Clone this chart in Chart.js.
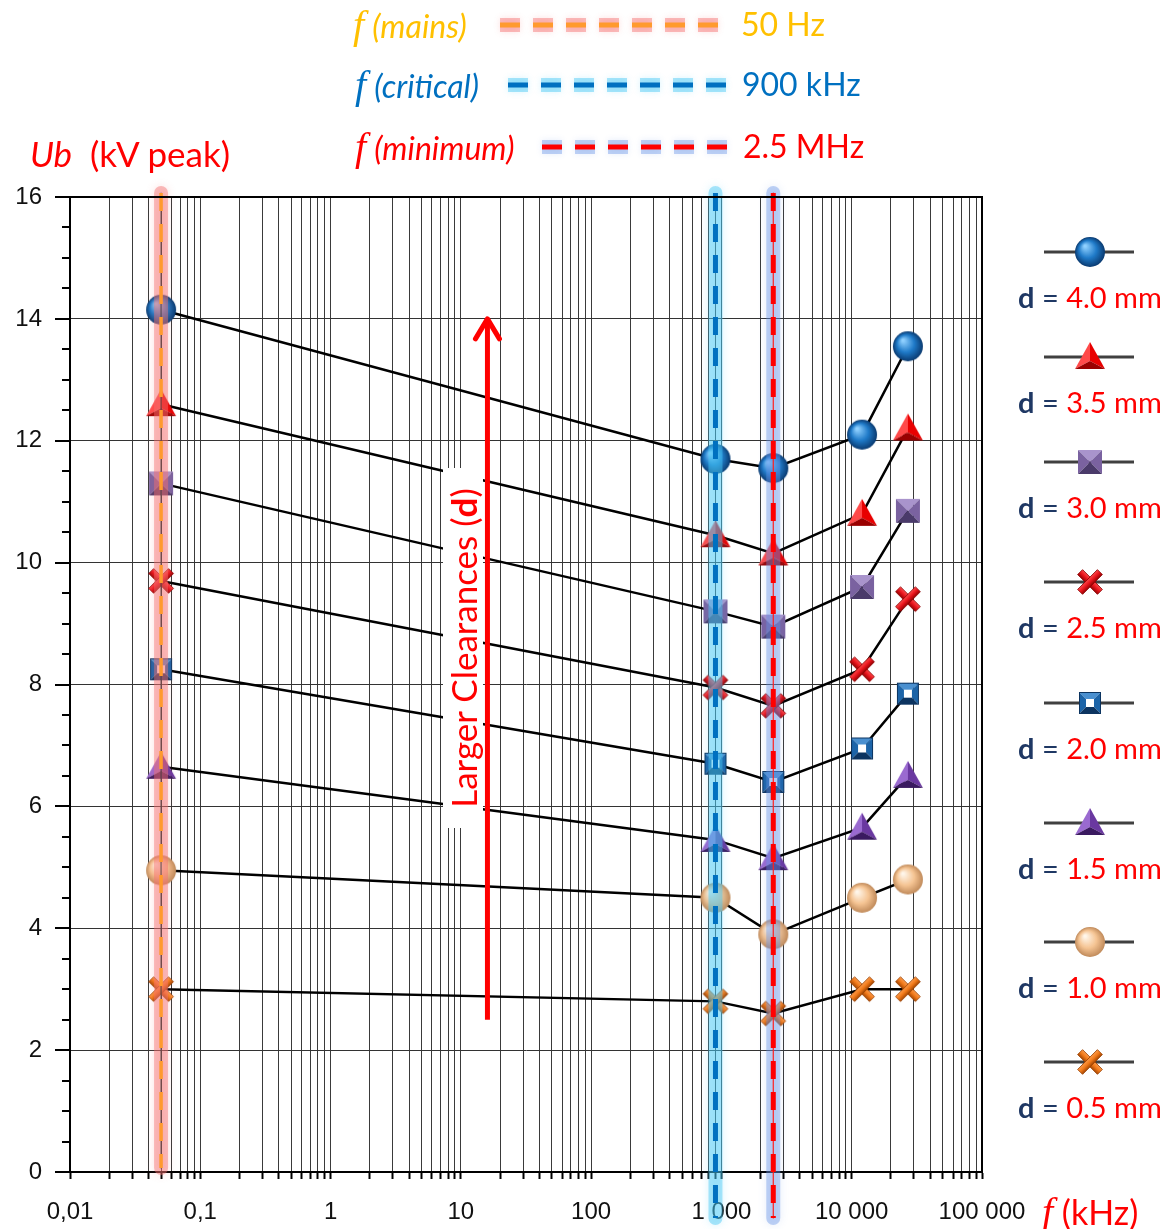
<!DOCTYPE html>
<html>
<head>
<meta charset="utf-8">
<title>Breakdown voltage vs frequency</title>
<script src="https://cdn.jsdelivr.net/npm/chart.js@4/dist/chart.umd.min.js"></script>
<style>
    body { margin: 0; background: #fff; }
    #wrap { position: relative; width: 1175px; height: 1229px; }
    .lbl { position: absolute; white-space: nowrap; line-height: 1; font-family: Lato, 'Open Sans', sans-serif; }
    .ff { font-family: 'Liberation Serif', serif; font-style: italic; font-size: 40px; }
    .it { font-style: italic; }
    .dl b { color: #1f3864; }
    .dl .eq { color: #1f3864; }
    .dl .v { color: #ff0000; }
    #clear { position: absolute; left: 283px; top: 628px; width: 360px; height: 40px; line-height: 40px;
             background: #fff; color: #ff0000; font-family: Lato, sans-serif; font-size: 35px;
             text-align: center; transform: rotate(-90deg); }
</style>
</head>
<body>
<div id="wrap">
    <canvas id="chart" width="1175" height="1229"></canvas>

    <!-- leyenda de frecuencias -->
    <div class="lbl" style="left:353px;top:5px;color:#ffc000;font-size:32px"><span class="ff">f</span> <span class="it">(mains)</span></div>
    <div class="lbl" style="left:355px;top:65px;color:#0070c0;font-size:32px"><span class="ff">f</span> <span class="it">(critical)</span></div>
    <div class="lbl" style="left:355px;top:127px;color:#ff0000;font-size:32px"><span class="ff">f</span> <span class="it">(minimum)</span></div>
    <div class="lbl" id="ref0" style="left:741px;top:8px;color:#ffc000;font-size:32px"></div>
    <div class="lbl" id="ref1" style="left:742px;top:68px;color:#0070c0;font-size:32px"></div>
    <div class="lbl" id="ref2" style="left:743px;top:130px;color:#ff0000;font-size:32px"></div>

    <!-- títulos de ejes -->
    <div class="lbl" style="left:30px;top:136px;color:#ff0000;font-size:35px"><span class="it">Ub</span>&nbsp; (kV peak)</div>
    <div class="lbl" style="left:1042px;top:1192px;color:#ff0000;font-size:34px"><span class="ff">f</span>&nbsp;(kHz)</div>

    <div id="clear">Larger Clearances (<b>d</b>)</div>

    <div id="legend"></div>
</div>

<script>
// Datos
const freqKHz = [0.05, 900, 2500, 12000, 27000];
const d40 = [14.15, 11.7, 11.55, 12.1, 13.55];
const d35 = [12.6, 10.45, 10.15, 10.8, 12.2];
const d30 = [11.3, 9.2, 8.95, 9.6, 10.85];
const d25 = [9.7, 7.95, 7.65, 8.25, 9.4];
const d20 = [8.25, 6.7, 6.4, 6.95, 7.85];
const d15 = [6.65, 5.45, 5.15, 5.65, 6.5];
const d10 = [4.95, 4.5, 3.9, 4.5, 4.8];
const d05 = [3.0, 2.8, 2.6, 3.0, 3.0];
const clearances = ['4.0', '3.5', '3.0', '2.5', '2.0', '1.5', '1.0', '0.5'];

const refFreqs = [0.05, 900, 2500];
const refLabels = ['50 Hz', '900 kHz', '2.5 MHz'];

const xMajorTicks = [0.01, 0.1, 1, 10, 100, 1000, 10000, 100000];
const xTickLabels = ['0,01', '0,1', '1', '10', '100', '1 000', '10 000', '100 000'];
const yMin = 0, yMax = 16, yMajorStep = 2, yMinorStep = 0.5;

// flecha "Larger Clearances"
const arrowFreq = 16;
const arrowFrom = 2.5;
const arrowTo = 14.0;

const seriesValues = [d40, d35, d30, d25, d20, d15, d10, d05];

// Estilos de marcadores
const markerStyles = [
    { kind: 'sphere',   light: '#8fd0ff', base: '#1f7ac8', dark: '#0a3a70' },
    { kind: 'triangle', light: '#ff4a4a', base: '#e80000', dark: '#9a0000' },
    { kind: 'pyramid',  light: '#a994cc', base: '#7a62a0', dark: '#4a3a6a' },
    { kind: 'cross',    light: '#ff5050', base: '#e8141c', dark: '#8a0000' },
    { kind: 'hollow',   light: '#4a90d0', base: '#1c64a8', dark: '#0c3460' },
    { kind: 'triangle', light: '#9a6ad0', base: '#6a38a0', dark: '#3a1a60' },
    { kind: 'sphere',   light: '#fff6ea', base: '#f5c493', dark: '#c08a5a' },
    { kind: 'cross',    light: '#ffa050', base: '#f07818', dark: '#9a4000' }
];

const refStyles = [
    { glow: 'rgba(245, 110, 110, 0.45)', dash: '#ff9a2e', thin: 'rgba(60,60,60,0.7)', below: -4, width: 3.5 },
    { glow: 'rgba(70, 200, 245, 0.45)', dash: '#0070c0', thin: null, below: 46, width: 5 },
    { glow: 'rgba(100, 145, 230, 0.40)', dash: '#ff0000', thin: '#ff2020', below: 46, width: 5 }
];

function facet(g, pts, color) {
    g.beginPath();
    g.moveTo(pts[0][0], pts[0][1]);
    for (let i = 1; i < pts.length; i++) g.lineTo(pts[i][0], pts[i][1]);
    g.closePath();
    g.fillStyle = color;
    g.fill();
}

function drawMarker(g, st, cx, cy) {
    if (st.kind === 'sphere') {
        const r = 15;
        const grad = g.createRadialGradient(cx - 5, cy - 6, 1, cx, cy, r);
        grad.addColorStop(0, st.light);
        grad.addColorStop(0.55, st.base);
        grad.addColorStop(1, st.dark);
        g.fillStyle = grad;
        g.beginPath();
        g.arc(cx, cy, r, 0, Math.PI * 2);
        g.fill();
    } else if (st.kind === 'triangle') {
        const top = [cx, cy - 15], bl = [cx - 15, cy + 12], br = [cx + 15, cy + 12], c = [cx, cy + 4];
        facet(g, [top, bl, c], st.light);
        facet(g, [top, br, c], st.base);
        facet(g, [bl, br, c], st.dark);
    } else if (st.kind === 'pyramid') {
        const h = 12;
        const tl = [cx - h, cy - h], tr = [cx + h, cy - h], bl = [cx - h, cy + h], br = [cx + h, cy + h], c = [cx, cy];
        facet(g, [tl, tr, c], st.light);
        facet(g, [tl, bl, c], st.base);
        facet(g, [tr, br, c], st.base);
        facet(g, [bl, br, c], st.dark);
    } else if (st.kind === 'hollow') {
        const h = 11, k = 4;
        const o = [[cx - h, cy - h], [cx + h, cy - h], [cx + h, cy + h], [cx - h, cy + h]];
        const n = [[cx - k, cy - k], [cx + k, cy - k], [cx + k, cy + k], [cx - k, cy + k]];
        facet(g, [o[0], o[1], n[1], n[0]], st.light);
        facet(g, [o[0], o[3], n[3], n[0]], st.base);
        facet(g, [o[1], o[2], n[2], n[1]], st.base);
        facet(g, [o[3], o[2], n[2], n[3]], st.dark);
        g.strokeStyle = st.dark;
        g.lineWidth = 1;
        g.strokeRect(cx - h + 0.5, cy - h + 0.5, 2 * h - 1, 2 * h - 1);
        g.fillStyle = '#fff';
        g.fillRect(cx - k, cy - k, 2 * k, 2 * k);
    } else if (st.kind === 'cross') {
        [Math.PI / 4, -Math.PI / 4].forEach(a => {
            g.save();
            g.translate(cx, cy);
            g.rotate(a);
            const grad = g.createLinearGradient(0, -4, 0, 4);
            grad.addColorStop(0, st.light);
            grad.addColorStop(0.5, st.base);
            grad.addColorStop(1, st.dark);
            g.fillStyle = grad;
            g.fillRect(-14, -3.5, 28, 7);
            g.strokeStyle = st.dark;
            g.lineWidth = 0.8;
            g.strokeRect(-14, -3.5, 28, 7);
            g.restore();
        });
    }
}

function markerCanvas(st) {
    const c = document.createElement('canvas');
    c.width = 34;
    c.height = 34;
    drawMarker(c.getContext('2d'), st, 17, 17);
    return c;
}

// Leyenda derecha
const legendRowY = [252, 357, 462, 582, 703, 823, 942, 1062];
const legend = document.getElementById('legend');
clearances.forEach((d, i) => {
    const c = document.createElement('canvas');
    c.width = 92;
    c.height = 36;
    c.style.position = 'absolute';
    c.style.left = '1043px';
    c.style.top = (legendRowY[i] - 18) + 'px';
    const g = c.getContext('2d');
    g.strokeStyle = '#404040';
    g.lineWidth = 3;
    g.beginPath();
    g.moveTo(1, 18);
    g.lineTo(91, 18);
    g.stroke();
    drawMarker(g, markerStyles[i], 47, 18);
    legend.appendChild(c);

    const t = document.createElement('div');
    t.className = 'lbl dl';
    t.style.left = '1018px';
    t.style.top = (legendRowY[i] + 30) + 'px';
    t.style.fontSize = '29px';
    t.innerHTML = '<b>d</b> <span class="eq">=</span> <span class="v">' + d + ' mm</span>';
    legend.appendChild(t);
});

refLabels.forEach((l, i) => {
    document.getElementById('ref' + i).textContent = l;
});

// Valores de la rejilla logarítmica
const xGridValues = [];
for (let e = -2; e <= 4; e++) {
    for (let k = 1; k <= 9; k++) {
        xGridValues.push(parseFloat((k * Math.pow(10, e)).toPrecision(6)));
    }
}
xGridValues.push(100000);

// Banda vertical continua con línea discontinua
function drawGlowLine(ctx, x1, y1, x2, y2, st) {
    ctx.save();
    ctx.lineCap = 'round';
    ctx.strokeStyle = st.glow;
    ctx.shadowColor = st.glow;
    ctx.shadowBlur = 8;
    ctx.lineWidth = 14;
    ctx.beginPath();
    ctx.moveTo(x1, y1);
    ctx.lineTo(x2, y2);
    ctx.stroke();
    ctx.shadowBlur = 0;
    if (st.thin) {
        ctx.strokeStyle = st.thin;
        ctx.lineWidth = 1.2;
        ctx.beginPath();
        ctx.moveTo(x1, y1);
        ctx.lineTo(x2, y2);
        ctx.stroke();
    }
    ctx.lineCap = 'butt';
    ctx.setLineDash([18, 13]);
    ctx.strokeStyle = st.dash;
    ctx.lineWidth = st.width;
    ctx.beginPath();
    ctx.moveTo(x1, y1);
    ctx.lineTo(x2, y2);
    ctx.stroke();
    ctx.restore();
}

// Muestra de leyenda: cada trazo con su propio halo
function drawGlowDashes(ctx, x1, x2, y, st) {
    ctx.save();
    ctx.setLineDash([20, 13]);
    ctx.lineCap = 'butt';
    ctx.strokeStyle = st.glow;
    ctx.shadowColor = st.glow;
    ctx.shadowBlur = 6;
    ctx.lineWidth = 14;
    ctx.beginPath();
    ctx.moveTo(x1, y);
    ctx.lineTo(x2, y);
    ctx.stroke();
    ctx.shadowBlur = 0;
    ctx.strokeStyle = st.dash;
    ctx.lineWidth = 5;
    ctx.beginPath();
    ctx.moveTo(x1, y);
    ctx.lineTo(x2, y);
    ctx.stroke();
    ctx.restore();
}

const overlayPlugin = {
    id: 'overlay',
    afterDatasetsDraw(chart) {
        const { ctx, scales: { x, y }, chartArea: a } = chart;

        // bandas de frecuencia
        refFreqs.forEach((f, i) => {
            const px = x.getPixelForValue(f);
            drawGlowLine(ctx, px, a.top - 4, px, a.bottom + refStyles[i].below, refStyles[i]);
        });

        // flecha
        const ax = x.getPixelForValue(arrowFreq);
        const y0 = y.getPixelForValue(arrowFrom);
        const y1 = y.getPixelForValue(arrowTo);
        ctx.save();
        ctx.strokeStyle = '#ff0000';
        ctx.lineWidth = 5;
        ctx.beginPath();
        ctx.moveTo(ax, y0);
        ctx.lineTo(ax, y1 + 3);
        ctx.stroke();
        ctx.lineCap = 'round';
        ctx.lineJoin = 'round';
        ctx.beginPath();
        ctx.moveTo(ax - 12, y1 + 20);
        ctx.lineTo(ax, y1);
        ctx.lineTo(ax + 12, y1 + 20);
        ctx.stroke();
        ctx.restore();
    },
    afterDraw(chart) {
        const { ctx, scales: { x, y }, chartArea: a } = chart;
        ctx.save();
        ctx.strokeStyle = '#000';
        ctx.lineWidth = 2;
        // borde superior y derecho
        ctx.beginPath();
        ctx.moveTo(a.left - 15, a.top);
        ctx.lineTo(a.right, a.top);
        ctx.lineTo(a.right, a.bottom);
        ctx.stroke();
        // marcas del eje Y
        for (let v = yMin; v <= yMax + 1e-9; v += yMinorStep) {
            const py = Math.round(y.getPixelForValue(v));
            const major = Math.abs(v % yMajorStep) < 1e-9;
            ctx.beginPath();
            ctx.moveTo(a.left - (major ? 15 : 8), py);
            ctx.lineTo(a.left, py);
            ctx.stroke();
        }
        ctx.restore();

        // líneas de la leyenda superior
        const rows = [[500, 722, 25], [508, 727, 85], [542, 728, 147]];
        rows.forEach((r, i) => drawGlowDashes(ctx, r[0], r[1], r[2], refStyles[i]));
    }
};

const datasets = seriesValues.map((vals, i) => ({
    label: 'd = ' + clearances[i] + ' mm',
    data: freqKHz.map((f, j) => ({ x: f, y: vals[j] })),
    showLine: true,
    borderColor: '#000',
    borderWidth: 2.5,
    pointStyle: markerCanvas(markerStyles[i]),
    pointRadius: 15
}));

new Chart(document.getElementById('chart').getContext('2d'), {
    type: 'scatter',
    data: { datasets: datasets },
    options: {
        responsive: false,
        animation: false,
        devicePixelRatio: 1,
        layout: { padding: { left: 0, right: 193, top: 197, bottom: 0 } },
        plugins: {
            legend: { display: false },
            tooltip: { enabled: false }
        },
        scales: {
            x: {
                type: 'logarithmic',
                min: 0.01,
                max: 100000,
                afterBuildTicks: function(scale) {
                    scale.ticks = xGridValues.map(v => ({ value: v }));
                },
                afterFit: function(scale) { scale.height = 57; },
                ticks: {
                    autoSkip: false,
                    maxRotation: 0,
                    padding: 19,
                    color: '#111',
                    font: { family: 'Liberation Sans', size: 24 },
                    callback: function(value) {
                        const idx = xMajorTicks.findIndex(m => Math.abs(Math.log10(m) - Math.log10(value)) < 1e-6);
                        return idx >= 0 ? xTickLabels[idx] : '';
                    }
                },
                grid: {
                    color: '#3a3a3a',
                    lineWidth: 1,
                    tickLength: 7,
                    tickColor: '#000',
                    tickWidth: 2
                },
                border: { color: '#000', width: 2 }
            },
            y: {
                min: yMin,
                max: yMax,
                afterFit: function(scale) { scale.width = 70; },
                ticks: {
                    stepSize: yMinorStep,
                    autoSkip: false,
                    padding: 28,
                    color: '#111',
                    font: { family: 'Liberation Sans', size: 24 },
                    callback: function(value) {
                        return Math.abs(value % yMajorStep) < 1e-9 ? value : '';
                    }
                },
                grid: {
                    drawTicks: false,
                    lineWidth: 1,
                    color: function(ctx) {
                        return Math.abs(ctx.tick.value % yMajorStep) < 1e-9 ? '#333' : 'rgba(0,0,0,0)';
                    }
                },
                border: { color: '#000', width: 2 }
            }
        }
    },
    plugins: [overlayPlugin]
});
</script>
</body>
</html>
